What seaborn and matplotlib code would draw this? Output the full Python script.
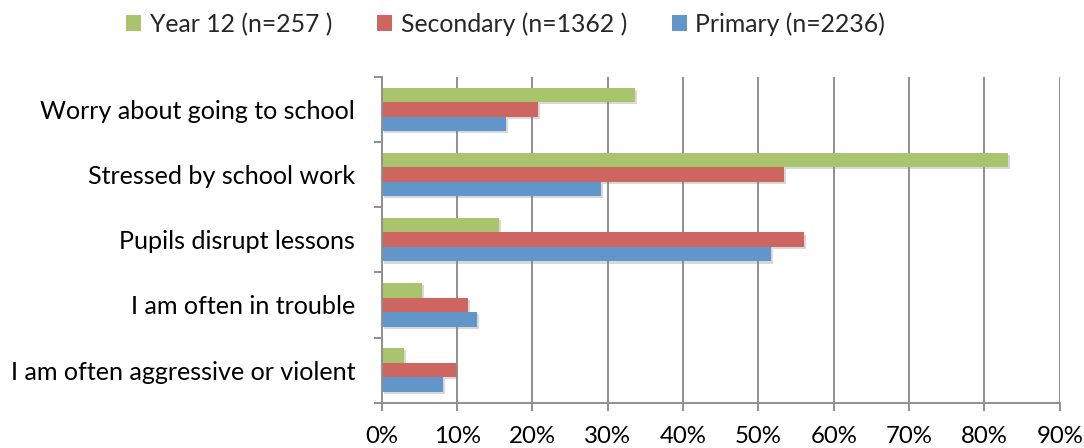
import matplotlib
matplotlib.use("Agg")
import matplotlib.pyplot as plt
import seaborn as sns
import pandas as pd
from matplotlib.patches import Patch
from matplotlib import patheffects as pe
from matplotlib.ticker import FixedLocator, FuncFormatter, NullFormatter

# ---------------- data ----------------
categories = [
    "Worry about going to school",
    "Stressed by school work",
    "Pupils disrupt lessons",
    "I am often in trouble",
    "I am often aggressive or violent",
]
series_names = ["Year 12 (n=257 )", "Secondary (n=1362 )", "Primary (n=2236)"]
year12 = [33.6, 83.1, 15.6, 5.4, 3.0]
secondary = [20.7, 53.4, 56.1, 11.4, 9.9]
primary = [16.5, 29.1, 51.7, 12.6, 8.1]
x_ticks = [0, 10, 20, 30, 40, 50, 60, 70, 80, 90]
colors = ["#A9C46C", "#CD6660", "#6196CB"]

rows = []
for name, vals in zip(series_names, [year12, secondary, primary]):
    for c, v in zip(categories, vals):
        rows.append({"category": c, "series": name, "value": v})
df = pd.DataFrame(rows)

# ---------------- style ----------------
sns.set_theme(style="white")
plt.rcParams["font.family"] = ["Lato", "DejaVu Sans"]
GRID = "#8F8F8F"

W, H = 1084, 448
fig = plt.figure(figsize=(W / 100, H / 100), dpi=100)
renderer = fig.canvas.get_renderer()


def fit_size(text, target_px):
    t = fig.text(0, 0, text, fontsize=10)
    w = t.get_window_extent(renderer).width
    t.remove()
    return 10 * target_px / w


fs_y = fit_size(categories[4], 346)
fs_x = fit_size("90%", 47)
fs_leg = fit_size(series_names[2], 190)

x0, x1 = 381.7, 1059.7
y_top, y_bot = 76.7, 402.7
ax = fig.add_axes([x0 / W, 1 - y_bot / H, (x1 - x0) / W, (y_bot - y_top) / H])

sns.barplot(
    data=df, y="category", x="value", hue="series",
    order=categories, hue_order=series_names, palette=colors,
    orient="h", width=0.667, saturation=1, legend=False, ax=ax,
    errorbar=None,
)
for p in ax.patches:
    p.set_linewidth(0)
    p.set_path_effects([
        pe.SimplePatchShadow(offset=(1.5, -1.5), shadow_rgbFace="#808080", alpha=0.3),
        pe.Normal(),
    ])

ax.set_xlim(0, 90)
ax.set_ylim(len(categories) - 0.5, -0.5)
ax.set_axisbelow(True)

# x axis
ax.xaxis.set_major_locator(FixedLocator(x_ticks))
ax.xaxis.set_major_formatter(FuncFormatter(lambda v, _: f"{v:.0f}%"))
ax.tick_params(axis="x", which="major", direction="out", length=5.8, width=1.4,
               color=GRID, pad=11, labelsize=fs_x, labelcolor="black", bottom=True)
ax.xaxis.grid(True, color=GRID, linewidth=1.4)
ax.yaxis.grid(False)

# y axis: ticks at boundaries, labels at centers
bounds = [i - 0.5 for i in range(len(categories) + 1)]
ax.yaxis.set_major_locator(FixedLocator(bounds))
ax.yaxis.set_major_formatter(NullFormatter())
ax.yaxis.set_minor_locator(FixedLocator(list(range(len(categories)))))
ax.yaxis.set_minor_formatter(FuncFormatter(lambda v, _: categories[int(round(v))]))
ax.tick_params(axis="y", which="major", direction="out", length=5.8, width=1.4,
               color=GRID, left=True)
ax.tick_params(axis="y", which="minor", length=0, pad=19.2, labelsize=fs_y,
               labelcolor="black", left=True)
ax.set_xlabel("")
ax.set_ylabel("")

for s in ["top", "right"]:
    ax.spines[s].set_visible(False)
for s in ["left", "bottom"]:
    ax.spines[s].set_color(GRID)
    ax.spines[s].set_linewidth(1.4)

# legend
fs_px = fs_leg / 72 * 100
handles = [Patch(facecolor=c, edgecolor="none") for c in colors]
fig.legend(
    handles, series_names, loc="center", bbox_to_anchor=(505.7 / W, 1 - 24 / H),
    ncol=3, frameon=False, fontsize=fs_leg,
    handlelength=15 / fs_px, handleheight=14 / fs_px,
    handletextpad=8.5 / fs_px, columnspacing=45 / fs_px, borderaxespad=0,
    borderpad=0,
)

fig.savefig("out.png", dpi=100)
